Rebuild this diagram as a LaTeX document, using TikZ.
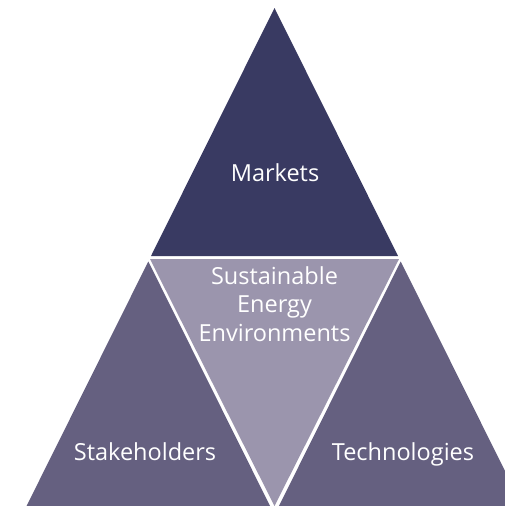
\documentclass[tikz,border=0pt]{standalone}
\usepackage{fontspec}
\setmainfont{Open Sans}
\definecolor{topc}{HTML}{393A62}
\definecolor{sidec}{HTML}{656080}
\definecolor{midc}{HTML}{9B95AD}
\begin{document}
\begin{tikzpicture}[x=1pt,y=-1pt,
  lbl/.style={text=white,font=\fontsize{23.5}{28.5}\selectfont,inner sep=0pt,anchor=base,align=center}]
\useasboundingbox (0,0) rectangle (505,506);
\clip (0,0) rectangle (505,506);
\fill[white] (0,0) rectangle (505,506);
% top triangle
\fill[topc] (274.5,8) -- (151,256) -- (398,256) -- cycle;
% middle inverted triangle
\fill[midc] (150,259) -- (399,259) -- (274.5,506) -- cycle;
% left triangle
\fill[sidec] (148.3,261.5) -- (270.3,506.5) -- (26.3,506.5) -- cycle;
% right triangle
\fill[sidec] (400.7,261.5) -- (522.7,506.5) -- (278.7,506.5) -- cycle;
\node[lbl] (markets) at (275,181) {Markets};
\node[lbl] (see) at (274.5,341) {Sustainable\\Energy\\Environments};
\node[lbl] (stake) at (145,460) {Stakeholders};
\node[lbl] (tech) at (403,460) {Technologies};
\end{tikzpicture}
\end{document}
